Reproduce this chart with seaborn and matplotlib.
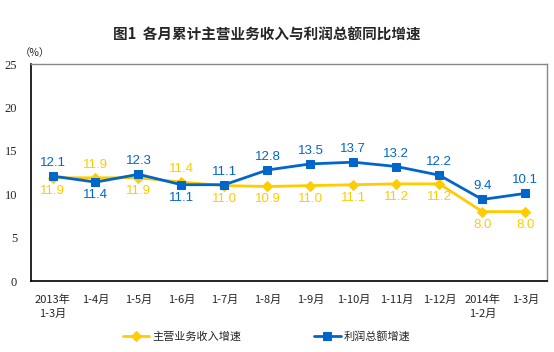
import pandas as pd
import numpy as np
import matplotlib.pyplot as plt
import seaborn as sns

sns.set_style('white')
plt.rcParams['font.family'] = ['Noto Sans CJK SC', 'DejaVu Sans']
plt.rcParams['axes.unicode_minus'] = False

# 数据
months = ['2013年\n1-3月', '1-4月', '1-5月', '1-6月', '1-7月', '1-8月',
          '1-9月', '1-10月', '1-11月', '1-12月', '2014年\n1-2月', '1-3月']
income_growth = [11.9, 11.9, 11.9, 11.4, 11.0, 10.9, 11.0, 11.1, 11.2, 11.2, 8.0, 8.0]
profit_growth = [12.1, 11.4, 12.3, 11.1, 11.1, 12.8, 13.5, 13.7, 13.2, 12.2, 9.4, 10.1]

c_income = '#FFCC00'
c_profit = '#0066CC'

df = pd.DataFrame({'pos': np.arange(len(months)),
                   '主营业务收入增速': income_growth,
                   '利润总额增速': profit_growth})

fig = plt.figure(figsize=(5.54, 3.52), dpi=100)
ax = fig.add_axes([0.056, 0.2017, 0.931, 0.616])

sns.lineplot(data=df, x='pos', y='主营业务收入增速', ax=ax, color=c_income,
             marker='D', markersize=5, markeredgecolor=c_income, linewidth=2,
             label='主营业务收入增速')
sns.lineplot(data=df, x='pos', y='利润总额增速', ax=ax, color=c_profit,
             marker='s', markersize=6, markeredgecolor=c_profit, linewidth=2,
             label='利润总额增速')

# 数据标签
off = 1.5
for i, (a, b) in enumerate(zip(income_growth, profit_growth)):
    sgn = 1 if b >= a else -1
    ax.text(i, b + sgn * off, f'{b:.1f}', ha='center', va='center', color=c_profit,
            fontsize=9.5, family='Liberation Sans')
    ax.text(i, a - sgn * off, f'{a:.1f}', ha='center', va='center', color=c_income,
            fontsize=9.5, family='Liberation Sans')

ax.set_xlim(-0.5, len(months) - 0.5)
ax.set_ylim(0, 25)
ax.set_yticks([0, 5, 10, 15, 20, 25])
ax.set_yticklabels(['0', '5', '10', '15', '20', '25'], family='Liberation Serif', fontsize=9)
ax.set_xticks(np.arange(len(months)))
ax.set_xticklabels(months, fontsize=8, linespacing=1.5)
ax.set_xticks(np.arange(-0.5, len(months)), minor=True)
ax.tick_params(axis='x', which='major', length=0, pad=10)
ax.tick_params(axis='x', which='minor', direction='in', length=4, width=1, color='black')
ax.tick_params(axis='y', direction='in', length=3, width=1, color='black', pad=10)
ax.set_xlabel('')
ax.set_ylabel('')

for side in ['left', 'bottom']:
    ax.spines[side].set_color('black')
    ax.spines[side].set_linewidth(1.2)
for side in ['top', 'right']:
    ax.spines[side].set_color('#888888')
    ax.spines[side].set_linewidth(1)

fig.text(0.482, 0.9, '图1  各月累计主营业务收入与利润总额同比增速', ha='center', va='center',
         fontsize=10.5, fontweight='bold')
fig.text(0.063, 0.85, '（%）', ha='center', va='center', fontsize=7.5)

ax.legend(loc='center', bbox_to_anchor=(0.457, -0.255), ncol=2, frameon=False,
          fontsize=8, handlelength=2.4, handletextpad=0.3, columnspacing=6.5)

fig.savefig('out.png', dpi=100)
